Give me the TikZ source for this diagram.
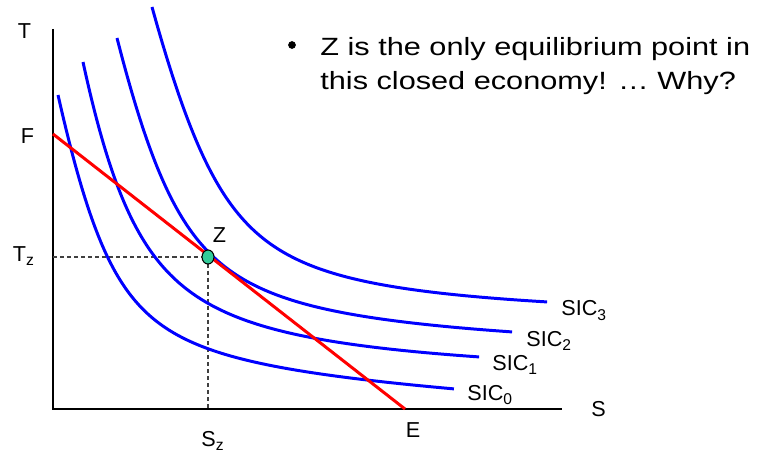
\documentclass[tikz,border=0pt]{standalone}
\usepackage{fontspec}
\setmainfont{Liberation Sans}
\newfontfamily\stretchfont{Liberation Sans}[FakeStretch=1.23]
\usetikzlibrary{positioning, shapes}
\definecolor{zgreen}{RGB}{51,204,153}
\newcommand{\lowidx}[1]{\raisebox{-2.7pt}{\fontsize{8.9}{9}\selectfont #1}}

\begin{document}
\begin{tikzpicture}[x=0.02cm, y=-0.02cm,
    lbl/.style={font=\fontsize{12.3}{14}\selectfont, inner sep=0pt, anchor=base west},
    note/.style={font=\stretchfont\fontsize{14.2}{17}\selectfont, inner sep=0pt, anchor=base west},
    sic/.style={blue, line width=1.7pt}]
  \useasboundingbox (0,0) rectangle (758,456);

  % Axes
  \coordinate (orig) at (53,409);
  \coordinate (ytop) at (53,29);
  \coordinate (xend) at (562,409);
  \draw[line width=1.15pt] (ytop) -- (orig) -- (xend);

  % Guide lines to Z
  \coordinate (z) at (208,257);
  \coordinate (tzpt) at (53,257);
  \coordinate (szpt) at (208,409);
  \draw[black!75, line width=0.6pt, dash pattern=on 2.3pt off 1.7pt] (tzpt) -- (z) -- (szpt);

  % Indifference curves (start / corner / end / weight)
  \foreach \ax/\ay/\cx/\cy/\bx/\by/\w in {58/95/117.9/358.6/455/389/2.33,
                                          83/62/142/333.4/480/357/1.94,
                                          117/38/186.5/309.1/513/332/2.1,
                                          152/7/228.6/282.8/548/302/2.125}
    \draw[sic] plot[variable=\t, domain=0:1, samples=60, smooth]
      ({((1-\t)^2*\ax + 2*\w*\t*(1-\t)*\cx + \t^2*\bx)/((1-\t)^2 + 2*\w*\t*(1-\t) + \t^2)},
       {((1-\t)^2*\ay + 2*\w*\t*(1-\t)*\cy + \t^2*\by)/((1-\t)^2 + 2*\w*\t*(1-\t) + \t^2)});

  % Budget line
  \coordinate (f) at (53,134);
  \coordinate (e) at (405,409);
  \draw[red, line width=1.7pt] (f) -- (e);

  % Equilibrium point
  \node[ellipse, draw, fill=zgreen, line width=0.6pt, minimum width=6.8pt, minimum height=8pt, inner sep=0pt] (zpt) at (z) {};

  % Axis labels
  \node[lbl] (lblT) at (17.5,39) {T};
  \node[lbl] (lblF) at (20.5,144) {F};
  \node[lbl] (lblTz) at (12.5,261) {T\lowidx{z}};
  \node[lbl] (lblSz) at (201,446) {S\lowidx{z}};
  \node[lbl] (lblE) at (405.5,437) {E};
  \node[lbl] (lblS) at (591,416) {S};
  \node[lbl] (lblZ) at (212.5,242) {Z};
  \foreach \i/\x/\y in {0/467/400, 1/492/370, 2/526/346, 3/561/316}
    \node[lbl] (sic\i) at (\x,\y) {SIC\lowidx{\i}};

  % Remark
  \node[circle, fill, inner sep=0pt, minimum size=4.4pt] (dot) at (292,45) {};
  \node[note] (line1) at (320,56) {Z is the only equilibrium point in};
  \node[note] (line2) at (320,90) {this closed economy! … Why?};
\end{tikzpicture}
\end{document}
